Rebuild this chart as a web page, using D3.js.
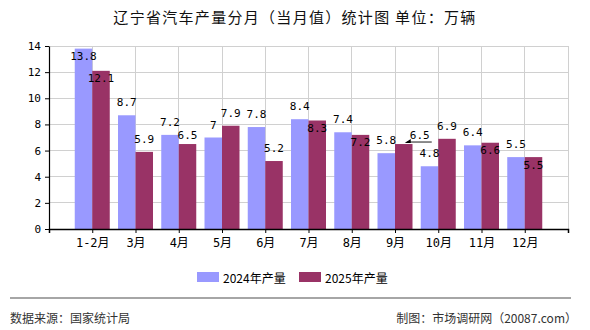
<!DOCTYPE html>
<html><head><meta charset="utf-8">
<script src="https://cdn.jsdelivr.net/npm/d3@7/dist/d3.min.js"></script>
<style>
body{margin:0;background:#fff;}
svg{display:block;}
</style></head>
<body><svg id="c" width="590" height="330"></svg>
<script>
const categories = ['1-2月','3月','4月','5月','6月','7月','8月','9月','10月','11月','12月'];
const values2024 = [13.8, 8.7, 7.2, 7, 7.8, 8.4, 7.4, 5.8, 4.8, 6.4, 5.5];
const values2025 = [12.1, 5.9, 6.5, 7.9, 5.2, 8.3, 7.2, 6.5, 6.9, 6.6, 5.5];
const seriesNames = ['2024年产量', '2025年产量'];
const yTicks = [0, 2, 4, 6, 8, 10, 12, 14];
// label placement (layout only)
const place2024 = ['in','above','above','above','above','above','above','above','above','above','above'];
const place2025 = ['in','above','near','above','above','in','in','callout','above','in','in'];

const colors = ['#9999FF', '#993366'];
const svg = d3.select('#c');
const L = 49, R = 568, T = 46, B = 229;
const monoFont = "'DejaVu Sans Mono','Noto Sans CJK SC',monospace";
const cjkFont = "'Noto Sans CJK SC',sans-serif";

const x = d3.scalePoint().domain(categories).range([L, R]).padding(1);
const step = x.step();
const y = d3.scaleLinear().domain([0, 14]).range([B, T]);
const bw = 17.5;

// title
svg.append('text').attr('x', 295).attr('y', 23).attr('text-anchor', 'middle')
  .attr('font-family', cjkFont).attr('font-size', 15).attr('letter-spacing', 1.3)
  .attr('fill', '#111').text('辽宁省汽车产量分月（当月值）统计图 单位：万辆');

// grid
const g = svg.append('g');
g.selectAll('.hg').data(yTicks.filter(d => d > 0)).join('line')
  .attr('x1', L).attr('x2', R).attr('y1', d => y(d)).attr('y2', d => y(d))
  .attr('stroke', '#d0d0d0').attr('stroke-width', 1).attr('shape-rendering', 'crispEdges');
const vgrid = d3.range(1, categories.length + 2).map(i => L + step * i);
g.selectAll('.vg').data(vgrid).join('line')
  .attr('x1', d => d).attr('x2', d => d).attr('y1', T).attr('y2', B)
  .attr('stroke', '#d0d0d0').attr('stroke-width', 1).attr('shape-rendering', 'crispEdges');

// bars
const series = [values2024, values2025];
series.forEach((vals, si) => {
  svg.append('g').selectAll('rect').data(vals).join('rect')
    .attr('x', (d, i) => x(categories[i]) - bw + si * bw)
    .attr('y', d => y(d))
    .attr('width', bw)
    .attr('height', d => y(0) - y(d))
    .attr('fill', colors[si]);
});

// axes
const yAxis = d3.axisLeft(y).tickValues(yTicks).tickSizeInner(4).tickSizeOuter(0).tickPadding(4);
const ya = svg.append('g').attr('transform', `translate(${L},0)`).call(yAxis);
ya.selectAll('text').attr('font-family', monoFont).attr('font-size', 11).attr('fill', '#000');
ya.selectAll('line,path').attr('stroke', '#000');
const xAxis = d3.axisBottom(x).tickSizeInner(4).tickSizeOuter(4).tickPadding(5);
const xa = svg.append('g').attr('transform', `translate(0,${B})`).call(xAxis);
xa.selectAll('text').attr('font-family', monoFont).attr('font-size', 12).attr('fill', '#000');
xa.selectAll('line,path').attr('stroke', '#000');
xa.select('.domain').attr('stroke-width', 1.5);
ya.select('.domain').attr('stroke-width', 1.2);

// value labels
const lg = svg.append('g').attr('font-family', monoFont).attr('font-size', 11).attr('fill', '#000');
const offsets = {in: 8, above: -12.5, near: -8.5};
series.forEach((vals, si) => {
  const places = si === 0 ? place2024 : place2025;
  vals.forEach((v, i) => {
    const cx = x(categories[i]) - bw / 2 + si * bw;
    const p = places[i];
    if (p === 'callout') {
      const tx = cx + 16, ty = y(v) - 9;
      lg.append('text').attr('x', tx).attr('y', ty).attr('text-anchor', 'middle')
        .attr('dominant-baseline', 'central').text(String(v));
      lg.append('line').attr('x1', cx + 28).attr('x2', cx + 3)
        .attr('y1', y(v) - 2).attr('y2', y(v) - 2).attr('stroke', '#666').attr('stroke-width', 1.5);
      lg.append('path').attr('d', `M${cx + 1},${y(v) - 1}L${cx + 7},${y(v) - 5}L${cx + 7},${y(v) - 1}Z`).attr('fill', '#000');
    } else {
      lg.append('text').attr('x', cx).attr('y', y(v) + offsets[p]).attr('text-anchor', 'middle')
        .attr('dominant-baseline', 'central').text(String(v));
    }
  });
});

// legend
const legX = [197, 299];
seriesNames.forEach((n, i) => {
  svg.append('rect').attr('x', legX[i]).attr('y', 272).attr('width', 22).attr('height', 10).attr('fill', colors[i]);
  svg.append('text').attr('x', legX[i] + 26).attr('y', 277).attr('dominant-baseline', 'central')
    .attr('font-family', cjkFont).attr('font-size', 12).attr('fill', '#000').text(n);
});

// footer
svg.append('line').attr('x1', 10).attr('x2', 571).attr('y1', 298).attr('y2', 298)
  .attr('stroke', '#888').attr('stroke-width', 1.5);
svg.append('text').attr('x', 10).attr('y', 317).attr('dominant-baseline', 'central')
  .attr('font-family', cjkFont).attr('font-size', 12).attr('fill', '#333').text('数据来源：国家统计局');
svg.append('text').attr('x', 577).attr('y', 317).attr('dominant-baseline', 'central').attr('text-anchor', 'end')
  .attr('font-family', cjkFont).attr('font-size', 12).attr('fill', '#333').text('制图：市场调研网（20087.com）');
</script></body></html>
